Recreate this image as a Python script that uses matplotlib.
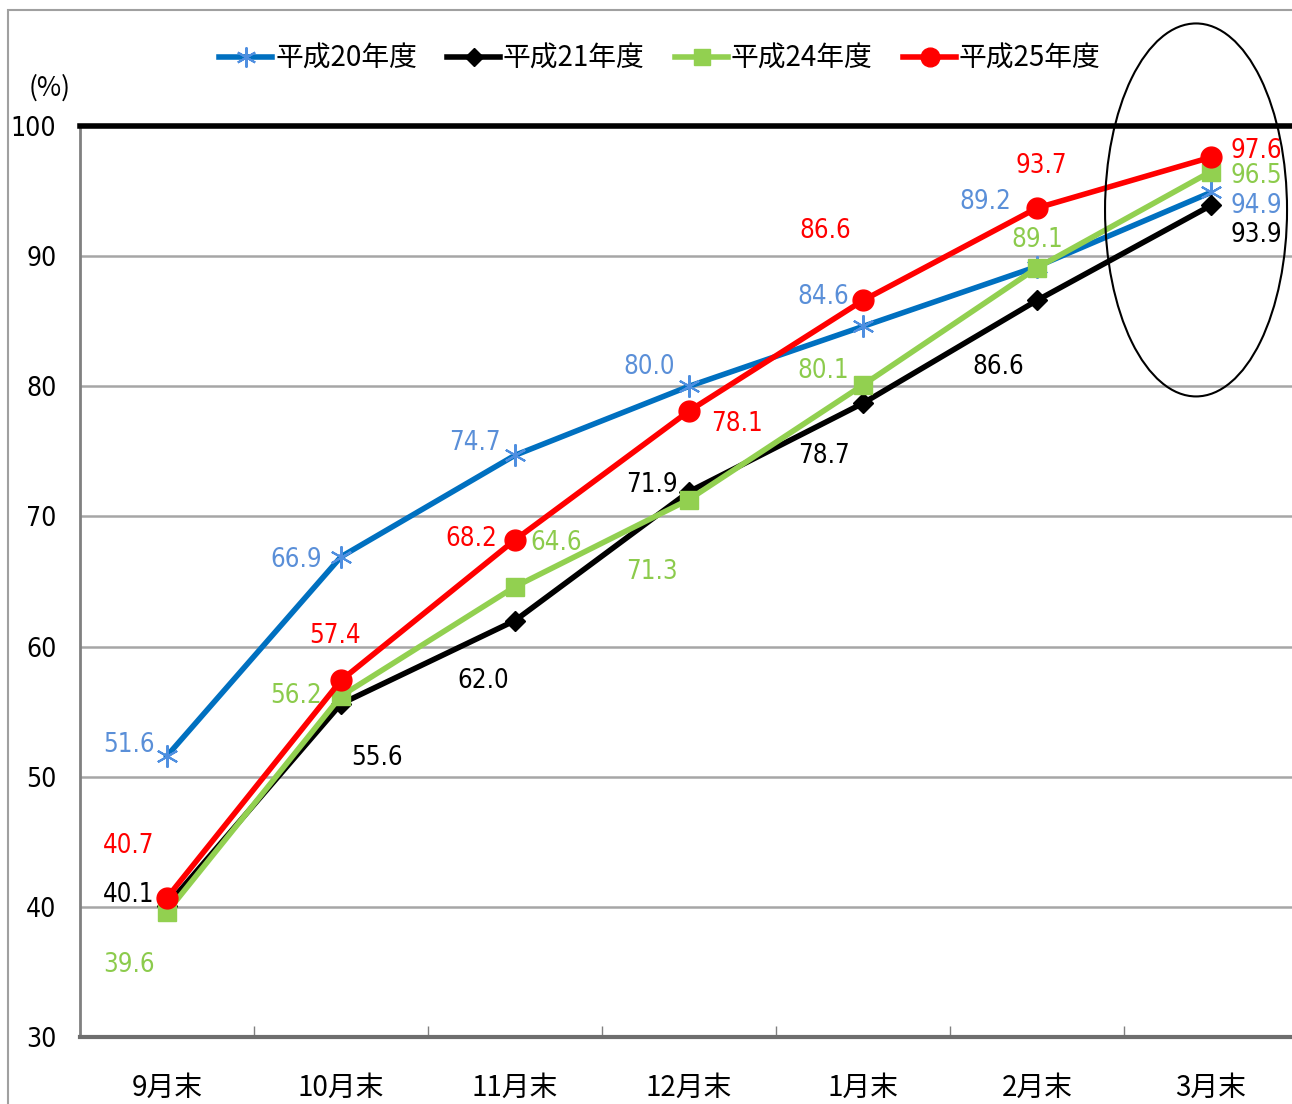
"""
Progress rate chart (平成20/21/24/25年度)
"""

import matplotlib.pyplot as plt
from matplotlib.patches import Ellipse, Rectangle
from matplotlib.lines import Line2D

# Data
months = ["9月末", "10月末", "11月末", "12月末", "1月末", "2月末", "3月末"]
h20 = [51.6, 66.9, 74.7, 80.0, 84.6, 89.2, 94.9]
h21 = [40.1, 55.6, 62.0, 71.9, 78.7, 86.6, 93.9]
h24 = [39.6, 56.2, 64.6, 71.3, 80.1, 89.1, 96.5]
h25 = [40.7, 57.4, 68.2, 78.1, 86.6, 93.7, 97.6]
series_names = ["平成20年度", "平成21年度", "平成24年度", "平成25年度"]

# label offsets in pixels (dx, dy) per point
off_h20 = [(-38, 11), (-45, -3), (-40, 12), (-40, 19), (-40, 29), (-52, 65), (45, -14)]
off_h21 = [(-38, 11), (36, -54), (-32, -60), (-37, 7), (-39, -53), (-39, -67), (45, -30)]
off_h24 = [(-38, -53), (-45, 0), (41, 44), (-37, -72), (-40, 14), (0, 28), (45, -4)]
off_h25 = [(-38, 52), (-6, 44), (-44, 1), (48, -13), (-38, 69), (4, 42), (45, 6)]

FONT_NUM = ["DejaVu Sans"]
FONT_JP = ["Noto Sans CJK JP", "DejaVu Sans"]

W, H = 1292, 1104
fig = plt.figure(figsize=(W / 100, H / 100), dpi=100)

# outer frame of the chart area
fig.patches.append(Rectangle((8 / W, -0.1), 1.2, 1 - 10 / H + 0.1, transform=fig.transFigure,
                             fill=False, edgecolor="#a0a0a0", linewidth=1.5))

x0, x1 = 80, 80 + 7 * 174
y_top, y_bot = 126, 1037
ax = fig.add_axes([x0 / W, 1 - y_bot / H, (x1 - x0) / W, (y_bot - y_top) / H])

x = list(range(len(months)))
ax.set_xlim(-0.5, 6.5)
ax.set_ylim(30, 100)

styles = [
    (h20, "#0070C0", dict(marker=(6, 2, 0), markersize=16, markeredgecolor="#4F8FE0",
                          markerfacecolor="#4F8FE0", markeredgewidth=1.5), "#5A8FD8", off_h20, 2),
    (h21, "#000000", dict(marker="D", markersize=10, markeredgecolor="black",
                          markerfacecolor="black"), "#000000", off_h21, 3),
    (h24, "#92D050", dict(marker="s", markersize=13, markeredgecolor="#92D050",
                          markerfacecolor="#92D050"), "#8CCB4C", off_h24, 4),
    (h25, "#FF0000", dict(marker="o", markersize=15, markeredgecolor="#FF0000",
                          markerfacecolor="#FF0000"), "#FF0000", off_h25, 5),
]

handles = []
for (vals, color, mk, lab_color, offs, z), name in zip(styles, series_names):
    line, = ax.plot(x, vals, color=color, linewidth=4, zorder=z, clip_on=False, **mk)
    handles.append(Line2D([], [], color=color, linewidth=4, **{**mk, "markersize": mk["markersize"] * 0.9}))
    for xi, v, (dx, dy) in zip(x, vals, offs):
        ax.annotate(f"{v:.1f}", (xi, v), xytext=(dx, dy), textcoords="offset pixels",
                    ha="center", va="center", color=lab_color, fontsize=18.5,
                    family=FONT_NUM, fontstretch="condensed", zorder=6)

# grid / axes styling
for yv in range(40, 100, 10):
    ax.axhline(yv, color="#a6a6a6", linewidth=1.8, zorder=1)
ax.spines["top"].set_color("black")
ax.spines["top"].set_linewidth(4)
ax.spines["right"].set_visible(False)
ax.spines["left"].set_color("#808080")
ax.spines["left"].set_linewidth(2)
ax.spines["bottom"].set_color("#6e6e6e")
ax.spines["bottom"].set_linewidth(3)

ax.set_yticks(range(30, 101, 10))
ax.set_yticklabels([str(v) for v in range(30, 101, 10)], family=FONT_NUM,
                   fontstretch="condensed", fontsize=19)
ax.tick_params(axis="y", length=0, pad=17)

ax.set_xticks(x)
ax.set_xticklabels(months, family=FONT_JP, fontsize=20)
ax.tick_params(axis="x", length=0, pad=26)
ax.set_xticks([i + 0.5 for i in range(6)], minor=True)
ax.tick_params(axis="x", which="minor", direction="in", length=8, color="#808080", width=1)

fig.text(50 / W, 1 - 88 / H, "(%)", family=FONT_JP, fontsize=19, ha="center", va="center")

# highlight ellipse around the final month
ax.add_patch(Ellipse((5.914, 93.55), 1.046, 28.66, fill=False, edgecolor="black",
                     linewidth=1.5, clip_on=False, zorder=7))

fig.legend(handles, series_names, loc="center", bbox_to_anchor=(660 / W, 1 - 59 / H),
           ncol=4, frameon=False, prop={"family": FONT_JP, "size": 20},
           handlelength=1.9, handletextpad=0.1, columnspacing=1.1)

fig.savefig("out.png", dpi=100)
